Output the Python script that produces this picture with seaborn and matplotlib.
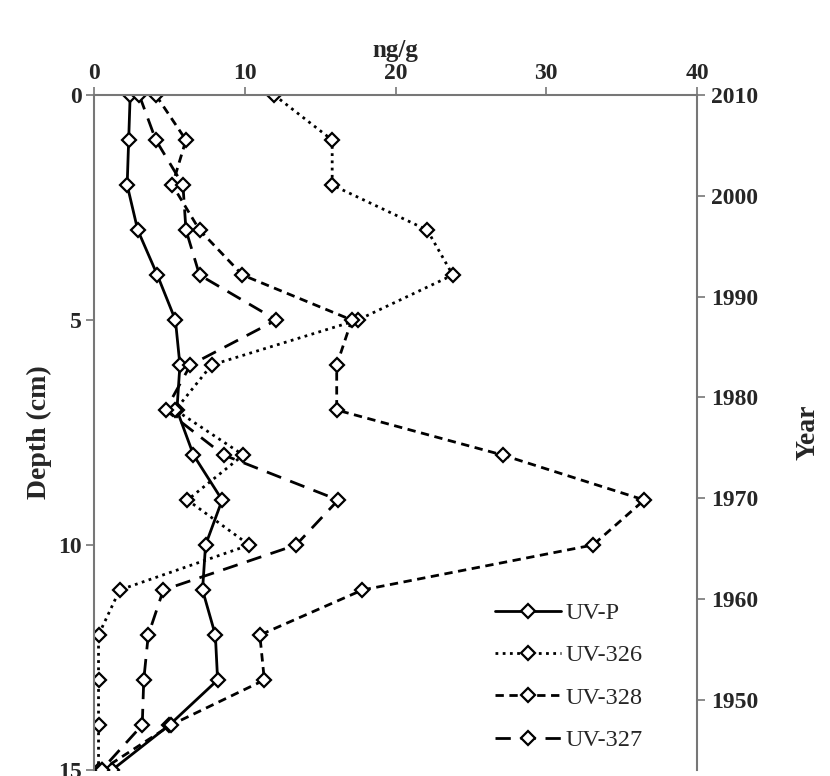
import matplotlib
matplotlib.use("Agg")
import matplotlib.pyplot as plt
import seaborn as sns
import numpy as np
import pandas as pd
from matplotlib.lines import Line2D

sns.set_theme(style="white")
plt.rcParams['font.family'] = ['Liberation Serif', 'DejaVu Serif']

depth = [0, 1, 2, 3, 4, 5, 6, 7, 8, 9, 10, 11, 12, 13, 14, 15]
uv_p   = [2.4, 2.3, 2.2, 2.9, 4.2, 5.4, 5.7, 5.5, 6.6, 8.5, 7.4, 7.2, 8.05, 8.2, 5.0, 1.2]
uv_326 = [11.95, 15.8, 15.8, 22.1, 23.8, 17.5, 7.8, 5.4, 9.9, 6.2, 10.3, 1.7, 0.3, 0.3, 0.3, 0.3]
uv_328 = [4.1, 6.1, 5.2, 7.0, 9.85, 17.1, 16.1, 16.1, 27.1, 36.5, 33.1, 17.8, 11.0, 11.3, 5.1, 0.5]
uv_327 = [3.0, 4.1, 5.9, 6.1, 7.0, 12.1, 6.4, 4.75, 8.6, 16.2, 13.4, 4.6, 3.6, 3.3, 3.2, 0.5]

series_names = ["UV-P", "UV-326", "UV-328", "UV-327"]
x_ticks = [0, 10, 20, 30, 40]
depth_ticks = [0, 5, 10, 15]
year_ticks = [1950, 1960, 1970, 1980, 1990, 2000, 2010]

styles = {
    "UV-P": "-",
    "UV-326": (0, (1, 1.6)),
    "UV-328": (0, (3, 2)),
    "UV-327": (0, (5.5, 3.5)),
}
values = {"UV-P": uv_p, "UV-326": uv_326, "UV-328": uv_328, "UV-327": uv_327}

fig = plt.figure(figsize=(8.3, 7.76), dpi=100)
ax = fig.add_axes([94/830, 1-770/776, (697-94)/830, (770-95)/776])

for name in series_names:
    df = pd.DataFrame({"val": values[name], "depth": depth})
    sns.lineplot(data=df, x="val", y="depth", orient="y", sort=False, ax=ax,
                 color="black", errorbar=None,
                 linestyle=styles[name], linewidth=2.0, marker="D", markersize=7,
                 markerfacecolor="white", markeredgecolor="black",
                 markeredgewidth=1.6, label=name, legend=False)

ax.set_xlim(0, 40)
ax.set_ylim(15, 0)
ax.xaxis.tick_top()
ax.xaxis.set_label_position("top")
ax.set_xticks(x_ticks)
ax.set_yticks(depth_ticks)
ax.set_xlabel("ng/g", fontsize=18, fontweight="bold", labelpad=4)
ax.set_ylabel("Depth (cm)", fontsize=20, fontweight="bold", labelpad=4)
for lab in ax.get_xticklabels() + ax.get_yticklabels():
    lab.set_fontweight("bold")
ax.tick_params(axis="both", labelsize=17, direction="out", length=6,
               width=1.2, color="#777777", pad=3)
ax.tick_params(axis="x", top=True, bottom=False, pad=2)
ax.tick_params(axis="y", left=True, right=False)
for s in ["top", "left"]:
    ax.spines[s].set_color("#777777")
    ax.spines[s].set_linewidth(1.5)
ax.spines["bottom"].set_visible(False)
ax.spines["right"].set_visible(False)
ax.grid(False)

ax2 = ax.twinx()
ax2.set_ylim(2010 - 675 / 10.08, 2010)
ax2.set_yticks(year_ticks)
ax2.set_yticklabels([str(y) for y in year_ticks], fontweight="bold")
ax2.tick_params(axis="y", labelsize=17, direction="out", length=6,
                width=1.2, color="#777777", pad=4)
ax2.set_ylabel("Year", fontsize=20, fontweight="bold", labelpad=27)
for s in ["top", "bottom", "left"]:
    ax2.spines[s].set_visible(False)
ax2.spines["right"].set_color("#777777")
ax2.spines["right"].set_linewidth(1.5)
ax2.grid(False)

handles = [Line2D([0], [0], color="black", linestyle=styles[n], linewidth=2.0,
                  marker="D", markersize=7, markerfacecolor="white",
                  markeredgecolor="black", markeredgewidth=1.6) for n in series_names]
leg = ax2.legend(handles, series_names, loc="upper left",
                 bbox_to_anchor=((495-94)/603, (770-602)/675),
                 frameon=False, fontsize=17.5, handlelength=2.7, labelspacing=0.84,
                 handletextpad=0.2, borderpad=0, borderaxespad=0)

fig.savefig("out.png", dpi=100)
